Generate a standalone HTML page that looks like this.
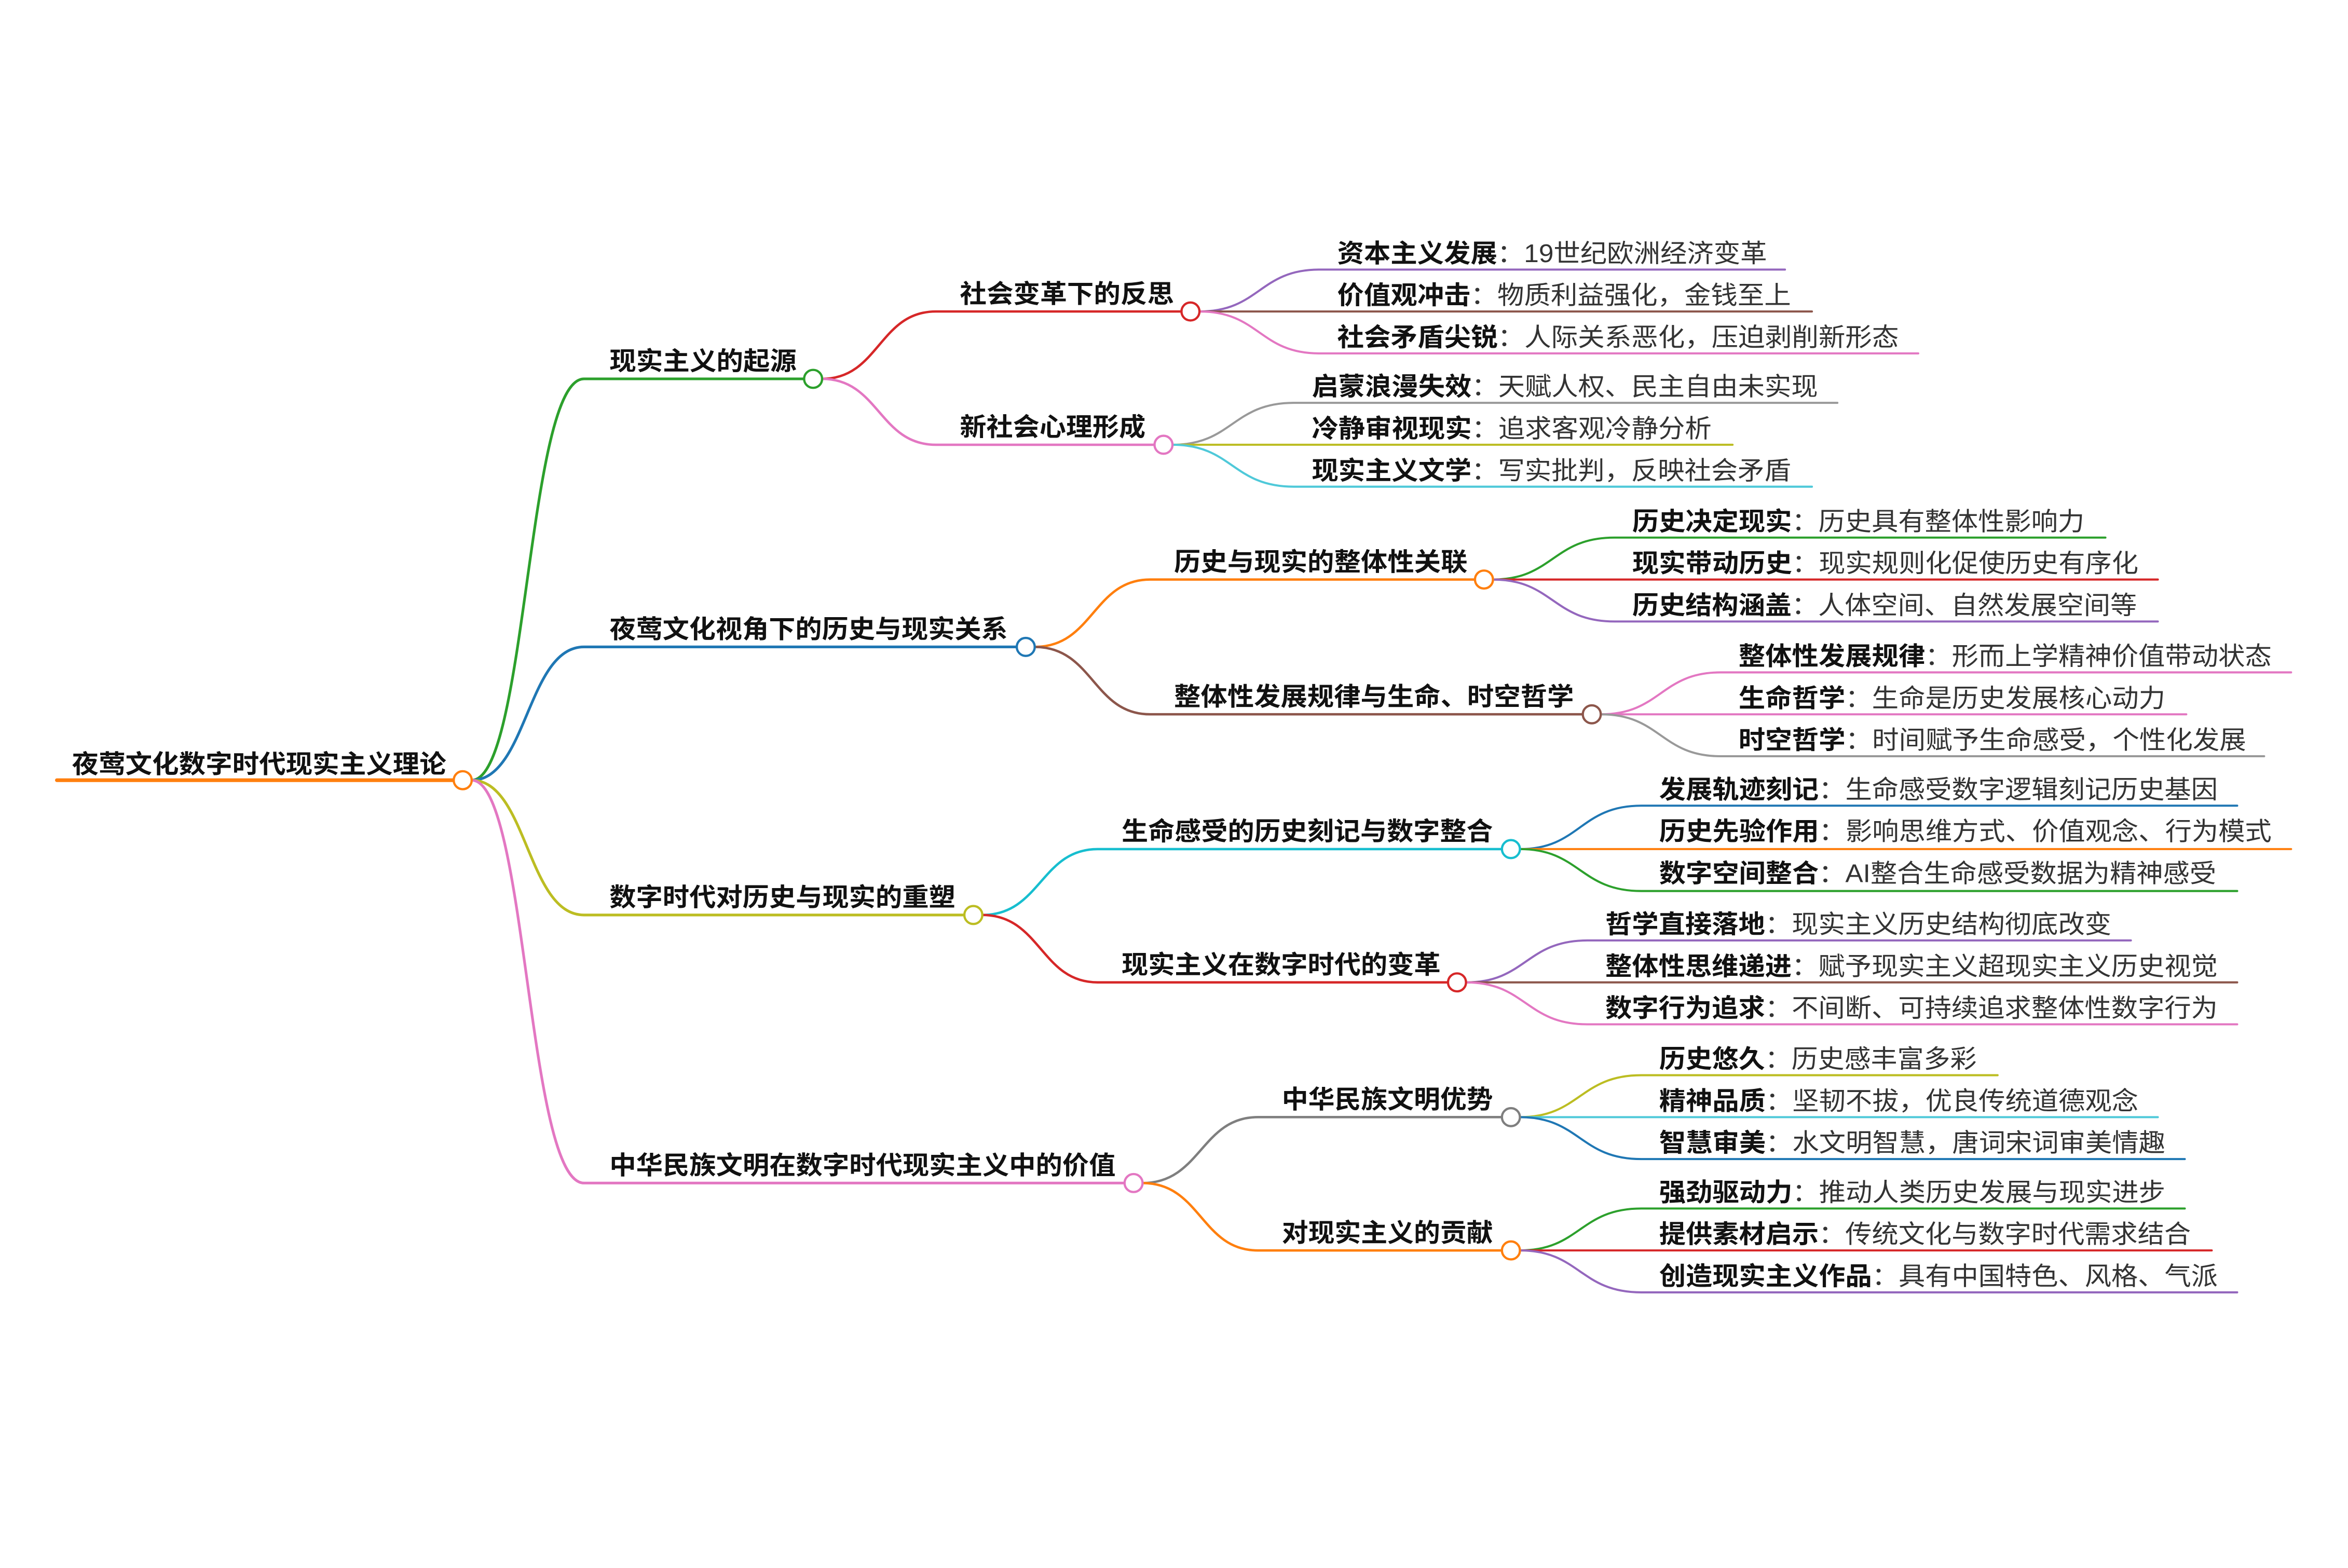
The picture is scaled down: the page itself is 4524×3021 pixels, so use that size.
<!DOCTYPE html>
<html><head><meta charset="utf-8"><style>
html,body{margin:0;padding:0;background:#fff;}
svg{display:block;}
text{font-family:"Liberation Sans","Noto Sans CJK SC",sans-serif;font-size:17px;}
.b{font-weight:bold;fill:#111;}
.d{fill:#333;font-weight:normal;}
path{fill:none;stroke-linecap:round;}
circle{fill:#fff;stroke-width:1.5;}
</style></head><body>
<svg width="4524" height="3021" viewBox="0 0 1568 1047" preserveAspectRatio="xMinYMin meet" xmlns="http://www.w3.org/2000/svg">
<rect width="1568" height="1047" fill="#fff"/>
<path d="M315 521 C352 521 352 253 390 253 H537" stroke="#2ca02c" stroke-width="1.8"/>
<path d="M315 521 C352 521 352 432 390 432 H679" stroke="#1f77b4" stroke-width="1.8"/>
<path d="M315 521 C352 521 352 611 390 611 H644" stroke="#bcbd22" stroke-width="1.8"/>
<path d="M315 521 C352 521 352 790 390 790 H751" stroke="#e377c2" stroke-width="1.8"/>
<path d="M38 521 H303" stroke="#ff7f0e" stroke-width="2.5"/>
<circle cx="309" cy="521" r="6" stroke="#ff7f0e"/>
<text class="b" x="48" y="516" textLength="250" lengthAdjust="spacingAndGlyphs">夜莺文化数字时代现实主义理论</text>
<path d="M549 253 C587 253 587 208 625 208 H789" stroke="#d62728" stroke-width="1.6"/>
<path d="M549 253 C587 253 587 297 625 297 H771" stroke="#e377c2" stroke-width="1.6"/>
<path d="M691 432 C730 432 730 387 768 387 H985" stroke="#ff7f0e" stroke-width="1.6"/>
<path d="M691 432 C730 432 730 477 768 477 H1057" stroke="#8c564b" stroke-width="1.6"/>
<path d="M656 611 C695 611 695 567 733 567 H1003" stroke="#17becf" stroke-width="1.6"/>
<path d="M656 611 C695 611 695 656 733 656 H967" stroke="#d62728" stroke-width="1.6"/>
<path d="M763 790 C802 790 802 746 840 746 H1003" stroke="#7f7f7f" stroke-width="1.6"/>
<path d="M763 790 C802 790 802 835 840 835 H1003" stroke="#ff7f0e" stroke-width="1.6"/>
<circle cx="543" cy="253" r="6" stroke="#2ca02c"/>
<circle cx="685" cy="432" r="6" stroke="#1f77b4"/>
<circle cx="650" cy="611" r="6" stroke="#bcbd22"/>
<circle cx="757" cy="790" r="6" stroke="#e377c2"/>
<text class="b" x="407" y="247" textLength="125" lengthAdjust="spacingAndGlyphs">现实主义的起源</text>
<text class="b" x="407" y="426" textLength="266" lengthAdjust="spacingAndGlyphs">夜莺文化视角下的历史与现实关系</text>
<text class="b" x="407" y="605" textLength="231" lengthAdjust="spacingAndGlyphs">数字时代对历史与现实的重塑</text>
<text class="b" x="407" y="784" textLength="338" lengthAdjust="spacingAndGlyphs">中华民族文明在数字时代现实主义中的价值</text>
<g stroke-width="1.4">
<path d="M801 208 C841 208 841 180 881 180 H1192" stroke="#9467bd"/>
<path d="M801 208 H1210" stroke="#8c564b"/>
<path d="M801 208 C841 208 841 236 881 236 H1281" stroke="#e377c2"/>
<path d="M783 297 C823 297 823 269 864 269 H1227" stroke="#999999"/>
<path d="M783 297 H1157" stroke="#bcbd22"/>
<path d="M783 297 C823 297 823 325 864 325 H1210" stroke="#4fc9d9"/>
<path d="M997 387 C1037 387 1037 359 1078 359 H1406" stroke="#2ca02c"/>
<path d="M997 387 H1441" stroke="#d62728"/>
<path d="M997 387 C1037 387 1037 415 1078 415 H1441" stroke="#9467bd"/>
<path d="M1069 477 C1109 477 1109 449 1149 449 H1530" stroke="#e377c2"/>
<path d="M1069 477 H1460" stroke="#e377c2"/>
<path d="M1069 477 C1109 477 1109 505 1149 505 H1512" stroke="#999999"/>
<path d="M1015 567 C1055 567 1055 538 1096 538 H1494" stroke="#1f77b4"/>
<path d="M1015 567 H1530" stroke="#ff7f0e"/>
<path d="M1015 567 C1055 567 1055 595 1096 595 H1494" stroke="#2ca02c"/>
<path d="M979 656 C1019 656 1019 628 1060 628 H1423" stroke="#9467bd"/>
<path d="M979 656 H1494" stroke="#8c564b"/>
<path d="M979 656 C1019 656 1019 684 1060 684 H1494" stroke="#e377c2"/>
<path d="M1015 746 C1055 746 1055 718 1096 718 H1334" stroke="#bcbd22"/>
<path d="M1015 746 H1441" stroke="#4fc9d9"/>
<path d="M1015 746 C1055 746 1055 774 1096 774 H1459" stroke="#1f77b4"/>
<path d="M1015 835 C1055 835 1055 807 1096 807 H1459" stroke="#2ca02c"/>
<path d="M1015 835 H1477" stroke="#d62728"/>
<path d="M1015 835 C1055 835 1055 863 1096 863 H1494" stroke="#9467bd"/>
</g>
<circle cx="795" cy="208" r="6" stroke="#d62728"/>
<circle cx="777" cy="297" r="6" stroke="#e377c2"/>
<circle cx="991" cy="387" r="6" stroke="#ff7f0e"/>
<circle cx="1063" cy="477" r="6" stroke="#8c564b"/>
<circle cx="1009" cy="567" r="6" stroke="#17becf"/>
<circle cx="973" cy="656" r="6" stroke="#d62728"/>
<circle cx="1009" cy="746" r="6" stroke="#7f7f7f"/>
<circle cx="1009" cy="835" r="6" stroke="#ff7f0e"/>
<text class="b" x="641" y="202" textLength="143" lengthAdjust="spacingAndGlyphs">社会变革下的反思</text>
<text class="b" x="641" y="291" textLength="124" lengthAdjust="spacingAndGlyphs">新社会心理形成</text>
<text class="b" x="784" y="381" textLength="196" lengthAdjust="spacingAndGlyphs">历史与现实的整体性关联</text>
<text class="b" x="784" y="471" textLength="267" lengthAdjust="spacingAndGlyphs">整体性发展规律与生命、时空哲学</text>
<text class="b" x="749" y="561" textLength="248" lengthAdjust="spacingAndGlyphs">生命感受的历史刻记与数字整合</text>
<text class="b" x="749" y="650" textLength="213" lengthAdjust="spacingAndGlyphs">现实主义在数字时代的变革</text>
<text class="b" x="856" y="740" textLength="141" lengthAdjust="spacingAndGlyphs">中华民族文明优势</text>
<text class="b" x="856" y="829" textLength="141" lengthAdjust="spacingAndGlyphs">对现实主义的贡献</text>
<text x="893" y="175" textLength="287" lengthAdjust="spacingAndGlyphs"><tspan class="b">资本主义发展</tspan><tspan class="d">：19世纪欧洲经济变革</tspan></text>
<text x="893" y="203" textLength="303" lengthAdjust="spacingAndGlyphs"><tspan class="b">价值观冲击</tspan><tspan class="d">：物质利益强化，金钱至上</tspan></text>
<text x="893" y="231" textLength="375" lengthAdjust="spacingAndGlyphs"><tspan class="b">社会矛盾尖锐</tspan><tspan class="d">：人际关系恶化，压迫剥削新形态</tspan></text>
<text x="876" y="264" textLength="338" lengthAdjust="spacingAndGlyphs"><tspan class="b">启蒙浪漫失效</tspan><tspan class="d">：天赋人权、民主自由未实现</tspan></text>
<text x="876" y="292" textLength="267" lengthAdjust="spacingAndGlyphs"><tspan class="b">冷静审视现实</tspan><tspan class="d">：追求客观冷静分析</tspan></text>
<text x="876" y="320" textLength="320" lengthAdjust="spacingAndGlyphs"><tspan class="b">现实主义文学</tspan><tspan class="d">：写实批判，反映社会矛盾</tspan></text>
<text x="1090" y="354" textLength="302" lengthAdjust="spacingAndGlyphs"><tspan class="b">历史决定现实</tspan><tspan class="d">：历史具有整体性影响力</tspan></text>
<text x="1090" y="382" textLength="338" lengthAdjust="spacingAndGlyphs"><tspan class="b">现实带动历史</tspan><tspan class="d">：现实规则化促使历史有序化</tspan></text>
<text x="1090" y="410" textLength="337" lengthAdjust="spacingAndGlyphs"><tspan class="b">历史结构涵盖</tspan><tspan class="d">：人体空间、自然发展空间等</tspan></text>
<text x="1161" y="444" textLength="356" lengthAdjust="spacingAndGlyphs"><tspan class="b">整体性发展规律</tspan><tspan class="d">：形而上学精神价值带动状态</tspan></text>
<text x="1161" y="472" textLength="285" lengthAdjust="spacingAndGlyphs"><tspan class="b">生命哲学</tspan><tspan class="d">：生命是历史发展核心动力</tspan></text>
<text x="1161" y="500" textLength="339" lengthAdjust="spacingAndGlyphs"><tspan class="b">时空哲学</tspan><tspan class="d">：时间赋予生命感受，个性化发展</tspan></text>
<text x="1108" y="533" textLength="373" lengthAdjust="spacingAndGlyphs"><tspan class="b">发展轨迹刻记</tspan><tspan class="d">：生命感受数字逻辑刻记历史基因</tspan></text>
<text x="1108" y="561" textLength="409" lengthAdjust="spacingAndGlyphs"><tspan class="b">历史先验作用</tspan><tspan class="d">：影响思维方式、价值观念、行为模式</tspan></text>
<text x="1108" y="589" textLength="372" lengthAdjust="spacingAndGlyphs"><tspan class="b">数字空间整合</tspan><tspan class="d">：AI整合生命感受数据为精神感受</tspan></text>
<text x="1072" y="623" textLength="338" lengthAdjust="spacingAndGlyphs"><tspan class="b">哲学直接落地</tspan><tspan class="d">：现实主义历史结构彻底改变</tspan></text>
<text x="1072" y="651" textLength="409" lengthAdjust="spacingAndGlyphs"><tspan class="b">整体性思维递进</tspan><tspan class="d">：赋予现实主义超现实主义历史视觉</tspan></text>
<text x="1072" y="679" textLength="409" lengthAdjust="spacingAndGlyphs"><tspan class="b">数字行为追求</tspan><tspan class="d">：不间断、可持续追求整体性数字行为</tspan></text>
<text x="1108" y="713" textLength="212" lengthAdjust="spacingAndGlyphs"><tspan class="b">历史悠久</tspan><tspan class="d">：历史感丰富多彩</tspan></text>
<text x="1108" y="741" textLength="320" lengthAdjust="spacingAndGlyphs"><tspan class="b">精神品质</tspan><tspan class="d">：坚韧不拔，优良传统道德观念</tspan></text>
<text x="1108" y="769" textLength="338" lengthAdjust="spacingAndGlyphs"><tspan class="b">智慧审美</tspan><tspan class="d">：水文明智慧，唐词宋词审美情趣</tspan></text>
<text x="1108" y="802" textLength="338" lengthAdjust="spacingAndGlyphs"><tspan class="b">强劲驱动力</tspan><tspan class="d">：推动人类历史发展与现实进步</tspan></text>
<text x="1108" y="830" textLength="355" lengthAdjust="spacingAndGlyphs"><tspan class="b">提供素材启示</tspan><tspan class="d">：传统文化与数字时代需求结合</tspan></text>
<text x="1108" y="858" textLength="373" lengthAdjust="spacingAndGlyphs"><tspan class="b">创造现实主义作品</tspan><tspan class="d">：具有中国特色、风格、气派</tspan></text>
</svg>
</body></html>
